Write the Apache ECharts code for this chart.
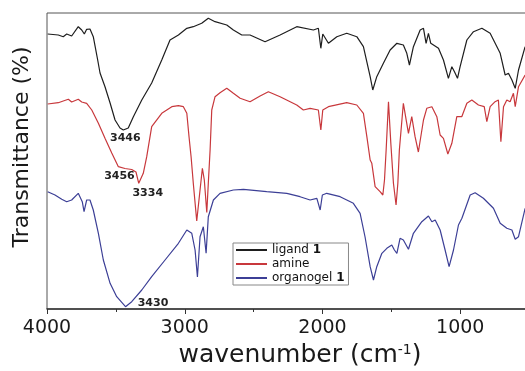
<!DOCTYPE html>
<html><head><meta charset="utf-8">
<script src="https://cdn.jsdelivr.net/npm/echarts@6/dist/echarts.min.js"></script>
<style>html,body{margin:0;padding:0;background:#fff}#c{width:525px;height:371px}</style>
</head><body><div id="c"></div>
<script>
// ligand 1 (black)
const ligandX = [3995,3918,3882,3857,3821,3773,3748,3729,3712,3688,3664,3632,3615,3579,3542,3506,3470,3446,3410,3373,3312,3240,3167,3107,3046,2985,2938,2877,2829,2780,2695,2647,2586,2526,2417,2308,2187,2066,2030,2012,1998,1957,1896,1824,1751,1703,1691,1654,1635,1606,1558,1509,1460,1413,1388,1369,1340,1291,1267,1248,1231,1214,1158,1122,1086,1061,1041,1020,1001,952,904,843,783,710,674,650,625,601,577,529];
const ligandY = [275,274,272.3,275,273,282.3,279,275,279.7,280,272.3,249,236,222.3,206,189,181,179,181,192.3,209,226,249,269,274,280.7,282.3,285.7,290.7,287.3,284,279,274,274,267.3,274,282.3,279,280.7,260.7,275,265.7,272.3,275.7,272.3,262.3,262.3,232.3,219,232.3,245.7,259,265.7,264,255.7,244,262.3,279,280.7,265.7,275.7,265.7,260.7,249,230.7,242.3,237,230.7,242.3,269,277.3,280.7,275.7,255.7,234,235.7,229,220.7,239,262.3];
// amine (red)
const amineX = [3995,3918,3882,3845,3821,3773,3748,3712,3675,3627,3579,3530,3482,3434,3385,3354,3334,3301,3276,3240,3167,3094,3046,3010,2985,2969,2954,2938,2913,2889,2872,2858,2840,2829,2816,2804,2780,2744,2695,2647,2598,2526,2453,2393,2308,2187,2139,2090,2030,2012,1998,1957,1824,1751,1703,1678,1654,1642,1618,1582,1562,1550,1538,1521,1504,1485,1466,1453,1442,1413,1376,1352,1328,1304,1267,1243,1206,1170,1146,1122,1090,1061,1025,989,952,916,868,826,807,783,747,723,705,686,662,638,614,601,577,529];
const amineY = [205,206.3,208,209.7,207,209.7,207,205.7,199,185.7,170.7,156,142.3,140.5,139.5,137,125.7,135.7,152.3,182.3,195.7,202.3,203.3,202.3,195.7,172.3,152.3,125.7,88,119,140.7,129,96.5,125.7,159,199,212.3,216.3,220.7,215.7,210.7,207.3,213,217.3,212.3,204,199,200.7,199,179,199,202.3,206.3,204,195.7,172.3,149,145.7,122.3,117.3,114,129,159,207.3,165.7,125.7,104,125.7,159,205.7,175.7,192.3,172.3,157,189,200.7,202.3,192.3,174,170.7,155,165.7,192.3,192.3,205.7,209,204,202.3,187.3,202.3,207.3,209,167.3,202.3,209,207.3,215.7,202.3,222.3,234];
// organogel 1 (blue)
const organogelX = [3995,3942,3893,3857,3821,3773,3744,3731,3712,3688,3664,3627,3591,3542,3494,3430,3385,3312,3240,3143,3046,2985,2949,2925,2908,2889,2865,2845,2829,2792,2744,2647,2574,2405,2259,2163,2090,2041,2017,2001,1969,1872,1776,1727,1691,1654,1630,1606,1569,1533,1497,1478,1460,1437,1413,1376,1340,1279,1231,1206,1182,1146,1110,1081,1049,1013,988,928,892,832,759,710,662,625,601,577,529];
const organogelY = [117.3,114,109.7,107.3,109,115.7,107.3,97.3,109,109,99,75.7,49,25.7,12.3,2.3,7.3,19,32.3,49,65.7,79,75.7,59,32,72.3,82.3,55.7,92.3,109,115.7,119,119.7,117.3,115.7,112.3,109,110.7,99,114,115.7,112.3,105.7,95.7,72,42.3,29,42.3,55.7,60.7,64,59,55.7,70.7,69,59.7,75.7,87.3,93,87.3,89,79,59,42.3,59,84,90.7,114,116.3,110.7,100.7,85.7,80.7,79,69.7,72.3,100.7];

const seriesNames = ['ligand 1','amine','organogel 1'];
const seriesColors = ['#1e1e1e','#c8383c','#3c3f96'];
const xTickLabels = [4000,3000,2000,1000];
// peak annotations: [wavenumber, transmittance, label offset x, offset y]
const ligandPeaks = [[3446,179,2,8]];
const aminePeaks = [[3456,140,-2.5,7],[3334,125.7,9,10]];
const organogelPeaks = [[3430,2.3,27.5,-4]];

function pairs(xs, ys){ return xs.map((x,i)=>[x, ys[i]]); }
function peaks(list){
  return {
    symbol:'circle', symbolSize:0, animation:false, silent:true,
    label:{show:true, position:'inside', fontFamily:'DejaVu Sans', fontWeight:'bold', fontSize:11, color:'#222',
      formatter: p => String(p.data.coord[0])},
    data: list.map(p => ({coord:[p[0],p[1]], label:{offset:[p[2],p[3]]}}))
  };
}

const chart = echarts.init(document.getElementById('c'), null, {renderer:'canvas'});
const allX = [ligandX, amineX, organogelX];
const allY = [ligandY, amineY, organogelY];
const allPeaks = [ligandPeaks, aminePeaks, organogelPeaks];

chart.setOption({
  animation:false,
  backgroundColor:'#fff',
  grid:{left:47, top:13, height:296, width:551, outerBoundsMode:'none', containLabel:false,
    show:true, borderColor:'#555', borderWidth:1, backgroundColor:'transparent'},
  legend:{
    orient:'vertical', left:233, top:243, itemWidth:31, itemHeight:13, itemGap:2,
    padding:[1,4,1,2], borderColor:'#888', borderWidth:1, backgroundColor:'#fff',
    itemStyle:{opacity:0},
    textStyle:{fontFamily:'DejaVu Sans', fontSize:12, color:'#111',
      rich:{b:{fontFamily:'DejaVu Sans', fontSize:12, fontWeight:'bold', color:'#111'}}},
    formatter: n => n.endsWith(' 1') ? n.slice(0,-2)+' {b|1}' : n,
    data: seriesNames
  },
  xAxis:{
    type:'value', min:0, max:4000, interval:1000, inverse:true,
    axisLine:{show:true, lineStyle:{color:'#333', width:1.5}},
    axisTick:{show:true, length:5, lineStyle:{color:'#333', width:1}},
    minorTick:{show:true, splitNumber:2, length:3, lineStyle:{color:'#333', width:1}},
    splitLine:{show:false}, minorSplitLine:{show:false},
    axisLabel:{fontFamily:'DejaVu Sans', fontSize:19, color:'#1a1a1a', margin:10, showMaxLabel:true,
      formatter: v => xTickLabels.indexOf(v) >= 0 ? String(v) : ''},
    name:'wavenumber (cm{sup|-1})', nameLocation:'middle', nameGap:30,
    nameTextStyle:{fontFamily:'DejaVu Sans', fontSize:25, color:'#1a1a1a', padding:[0,45,0,0],
      rich:{sup:{fontFamily:'DejaVu Sans', fontSize:14, color:'#1a1a1a', verticalAlign:'top', padding:[0,0,10,0]}}}
  },
  yAxis:{
    type:'value', min:0, max:296,
    axisLine:{show:true, lineStyle:{color:'#444', width:1.5}},
    axisTick:{show:false}, axisLabel:{show:false}, splitLine:{show:false},
    name:'Transmittance (%)', nameLocation:'middle', nameGap:14,
    nameTextStyle:{fontFamily:'DejaVu Sans', fontSize:22, color:'#1a1a1a', padding:[0,0,0,28]}
  },
  series: seriesNames.map((n,i)=>({
    name:n, type:'line', data:pairs(allX[i], allY[i]), showSymbol:false, symbol:'none',
    lineStyle:{color:seriesColors[i], width:1.2},
    itemStyle:{color:seriesColors[i]},
    markPoint: peaks(allPeaks[i])
  }))
});
</script>
</body></html>
